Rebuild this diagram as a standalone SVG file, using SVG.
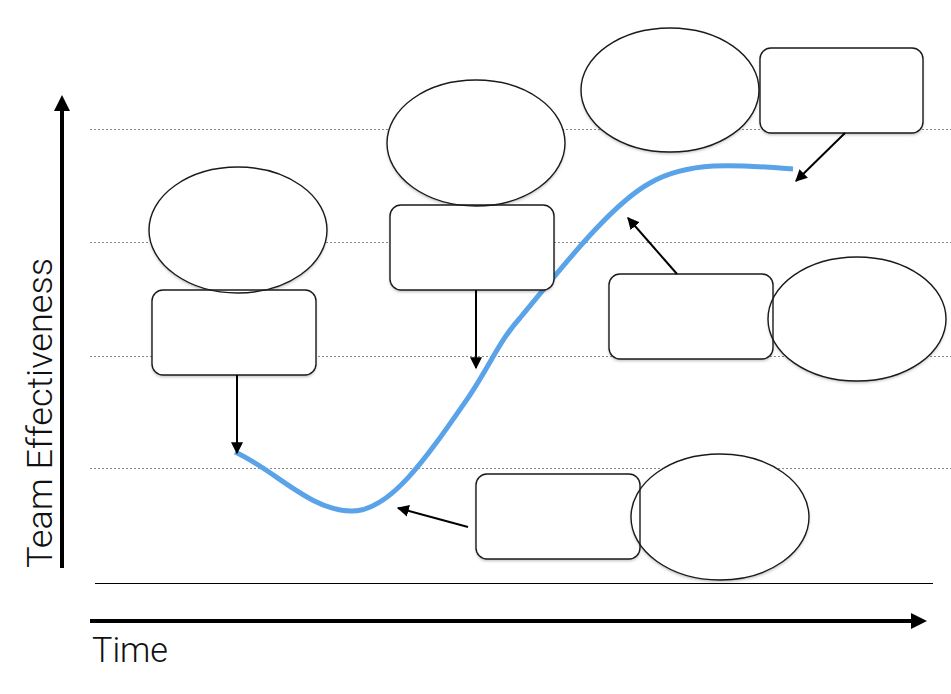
<svg xmlns="http://www.w3.org/2000/svg" width="951" height="694" viewBox="0 0 951 694">
<style>
.grid{stroke:#8a8a8a;stroke-width:1;stroke-dasharray:2 2;fill:none}
.fillw{fill:#fff;stroke:none;filter:url(#sh)}
.edge{fill:none;stroke:#1a1a1a;stroke-width:1.4}
.conn{stroke:#000;stroke-width:2;fill:none;marker-end:url(#ah)}
.axis{stroke:#000;stroke-width:4;fill:none}
.lbl{font-family:Roboto,"Liberation Sans",sans-serif;font-weight:300;fill:#111}
</style>
<defs>
<marker id="ah" viewBox="0 0 10 10" refX="9" refY="5" markerWidth="6" markerHeight="6" orient="auto" markerUnits="strokeWidth">
<path d="M0,0 L10,5 L0,10 z" fill="#000"/>
</marker>
<filter id="sh" x="-10%" y="-10%" width="120%" height="130%">
<feDropShadow dx="0" dy="2" stdDeviation="1.5" flood-color="#000" flood-opacity="0.25"/>
</filter>
</defs>
<rect width="951" height="694" fill="#fff"/>
<g id="gridlines">
<line class="grid" x1="90" y1="129.5" x2="951" y2="129.5"/>
<line class="grid" x1="90" y1="242.5" x2="951" y2="242.5"/>
<line class="grid" x1="90" y1="356.5" x2="951" y2="356.5"/>
<line class="grid" x1="90" y1="468.5" x2="951" y2="468.5"/>
</g>
<g id="axes">
<line class="axis" x1="62" y1="568" x2="62" y2="108"/>
<polygon points="62,95 54,111 70,111" fill="#000"/>
<line class="axis" x1="90" y1="621" x2="912" y2="621"/>
<polygon points="927,621 911,613 911,629" fill="#000"/>
<line x1="95" y1="583.5" x2="933" y2="583.5" stroke="#000" stroke-width="1"/>
<text class="lbl" x="92" y="662" font-size="35" textLength="76" lengthAdjust="spacingAndGlyphs">Time</text>
<text class="lbl" transform="translate(52,568) rotate(-90)" x="0" y="0" font-size="35" textLength="310" lengthAdjust="spacingAndGlyphs">Team Effectiveness</text>
</g>
<g id="curve">
<path d="M235,452 C275,470 310,511 352,511 C390,511 425,460 470,395 C490,365 500,340 520,318 C560,270 610,205 650,183 C690,160 740,165 793,169" fill="none" stroke="#5ba3e8" stroke-width="5" stroke-linecap="butt"/>
</g>
<g id="node1">
<ellipse class="fillw" cx="238" cy="230" rx="89" ry="63"/>
<rect class="fillw" x="152" y="290" width="164" height="85" rx="11"/>
<ellipse class="edge" cx="238" cy="230" rx="89" ry="63"/>
<rect class="edge" x="152" y="290" width="164" height="85" rx="11"/>
</g>
<g id="node2">
<ellipse class="fillw" cx="476" cy="143" rx="89" ry="63"/>
<rect class="fillw" x="390" y="205" width="164" height="85" rx="11"/>
<ellipse class="edge" cx="476" cy="143" rx="89" ry="63"/>
<rect class="edge" x="390" y="205" width="164" height="85" rx="11"/>
</g>
<g id="node3">
<rect class="fillw" x="476" y="474" width="164" height="85" rx="11"/>
<ellipse class="fillw" cx="720" cy="517" rx="89" ry="63"/>
<rect class="edge" x="476" y="474" width="164" height="85" rx="11"/>
<ellipse class="edge" cx="720" cy="517" rx="89" ry="63"/>
</g>
<g id="node4">
<rect class="fillw" x="609" y="274" width="164" height="85" rx="11"/>
<ellipse class="fillw" cx="857" cy="319" rx="89" ry="62"/>
<rect class="edge" x="609" y="274" width="164" height="85" rx="11"/>
<ellipse class="edge" cx="857" cy="319" rx="89" ry="62"/>
</g>
<g id="node5">
<ellipse class="fillw" cx="670" cy="90" rx="89" ry="62"/>
<rect class="fillw" x="760" y="48" width="163" height="85" rx="11"/>
<ellipse class="edge" cx="670" cy="90" rx="89" ry="62"/>
<rect class="edge" x="760" y="48" width="163" height="85" rx="11"/>
</g>
<g id="connectors">
<line class="conn" x1="237" y1="375" x2="237" y2="453"/>
<line class="conn" x1="476" y1="290" x2="476" y2="368"/>
<line class="conn" x1="468" y1="527" x2="398" y2="508"/>
<line class="conn" x1="677" y1="274" x2="628" y2="218"/>
<line class="conn" x1="845" y1="133" x2="796" y2="181"/>
</g>
</svg>
